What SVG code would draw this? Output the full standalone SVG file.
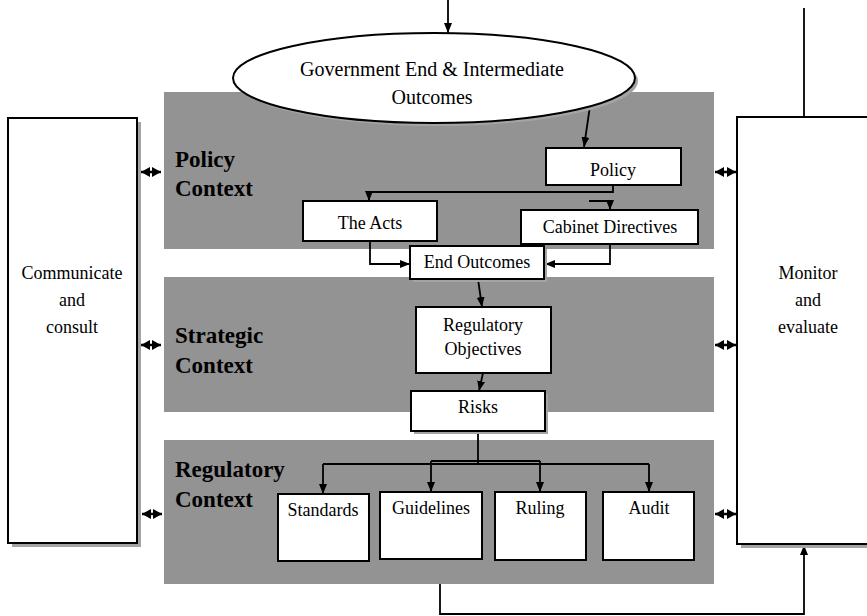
<svg xmlns="http://www.w3.org/2000/svg" width="867" height="616" viewBox="0 0 867 616">
  <style>
    .panel { fill: #939393; }
    .shadow { fill: #a4a4a4; }
    .box { fill: #ffffff; stroke: #000000; stroke-width: 2; }
    .txt { font-family: "Liberation Serif", "Times New Roman", serif; font-size: 18px; fill: #000000; text-anchor: middle; }
    .big { font-size: 20px; }
    .ctx { font-family: "Liberation Serif", "Times New Roman", serif; font-size: 23px; font-weight: bold; fill: #000000; }
    .wire { fill: none; stroke: #000000; stroke-width: 1.8; }
    .dbl { fill: none; stroke: #000000; stroke-width: 2.5; }
  </style>
  <defs>
    <marker id="arrow" markerUnits="userSpaceOnUse" markerWidth="10" markerHeight="10" viewBox="0 0 10 10" refX="10" refY="5" orient="auto">
      <path d="M0,1 L10,5 L0,9 Z" fill="#000000"/>
    </marker>
    <marker id="tip" markerUnits="userSpaceOnUse" markerWidth="9" markerHeight="10" viewBox="0 0 9 10" refX="9" refY="5" orient="auto-start-reverse">
      <path d="M0,0 L9,5 L0,10 Z" fill="#000000"/>
    </marker>
  </defs>

  <!-- context bands -->
  <g id="bands">
    <rect class="panel" x="164" y="92" width="550" height="157"/>
    <rect class="panel" x="164" y="277" width="550" height="135"/>
    <rect class="panel" x="164" y="440" width="550" height="144"/>
    <text class="ctx" x="175" y="167">Policy</text>
    <text class="ctx" x="175" y="196">Context</text>
    <text class="ctx" x="175" y="343">Strategic</text>
    <text class="ctx" x="175" y="373">Context</text>
    <text class="ctx" x="175" y="477">Regulatory</text>
    <text class="ctx" x="175" y="507">Context</text>
  </g>

  <!-- connectors -->
  <g id="connectors">
    <path class="wire" d="M448,0 V33" marker-end="url(#arrow)"/>
    <path class="wire" d="M804,8 V117"/>
    <path class="wire" d="M590,106 L584,147" marker-end="url(#arrow)"/>
    <path class="wire" d="M613,185 V192 H369 V201" marker-end="url(#arrow)"/>
    <path class="wire" d="M589,201 H610 V210" marker-end="url(#arrow)"/>
    <path class="wire" d="M370,241 V264 H410" marker-end="url(#arrow)"/>
    <path class="wire" d="M610,244 V264 H545" marker-end="url(#arrow)"/>
    <path class="wire" d="M478,279 L482,307" marker-end="url(#arrow)"/>
    <path class="wire" d="M483,373 L479,391" marker-end="url(#arrow)"/>
    <path class="wire" d="M478,431 V464"/>
    <path class="wire" d="M323,464 H649"/>
    <path class="wire" d="M431,461 H540"/>
    <path class="wire" d="M323,464 V494" marker-end="url(#arrow)"/>
    <path class="wire" d="M431,461 V492" marker-end="url(#arrow)"/>
    <path class="wire" d="M540,461 V492" marker-end="url(#arrow)"/>
    <path class="wire" d="M649,464 V492" marker-end="url(#arrow)"/>
    <path class="wire" d="M440,584 V614 H804 V545" marker-end="url(#arrow)"/>
    <path class="dbl" d="M141,172 H161" marker-start="url(#tip)" marker-end="url(#tip)"/>
    <path class="dbl" d="M141,345 H161" marker-start="url(#tip)" marker-end="url(#tip)"/>
    <path class="dbl" d="M142,514 H162" marker-start="url(#tip)" marker-end="url(#tip)"/>
    <path class="dbl" d="M715,172 H736" marker-start="url(#tip)" marker-end="url(#tip)"/>
    <path class="dbl" d="M715,345 H736" marker-start="url(#tip)" marker-end="url(#tip)"/>
    <path class="dbl" d="M715,514 H736" marker-start="url(#tip)" marker-end="url(#tip)"/>
  </g>

  <!-- nodes -->
  <g id="government-outcomes">
    <ellipse class="shadow" cx="437" cy="81" rx="201" ry="45"/>
    <ellipse class="box" cx="434" cy="78" rx="201" ry="45"/>
    <text class="txt big" x="432" y="76">Government End &amp; Intermediate</text>
    <text class="txt big" x="432" y="104">Outcomes</text>
  </g>

  <g id="communicate">
    <rect class="shadow" x="12" y="122" width="129" height="425"/>
    <rect class="box" x="8" y="118" width="129" height="425"/>
    <text class="txt" x="72" y="279">Communicate</text>
    <text class="txt" x="72" y="306">and</text>
    <text class="txt" x="72" y="333">consult</text>
  </g>

  <g id="monitor">
    <rect class="shadow" x="741" y="121" width="140" height="427"/>
    <rect class="box" x="737" y="117" width="140" height="427"/>
    <text class="txt" x="808" y="279">Monitor</text>
    <text class="txt" x="808" y="306">and</text>
    <text class="txt" x="808" y="333">evaluate</text>
  </g>

  <g id="policy">
    <rect class="box" x="546" y="148" width="135" height="37"/>
    <text class="txt" x="613" y="176">Policy</text>
  </g>

  <g id="acts">
    <rect class="box" x="303" y="201" width="134" height="40"/>
    <text class="txt" x="370" y="229">The Acts</text>
  </g>

  <g id="cabinet-directives">
    <rect class="box" x="521" y="210" width="177" height="34"/>
    <text class="txt" x="610" y="233">Cabinet Directives</text>
  </g>

  <g id="end-outcomes">
    <rect class="shadow" x="413" y="249" width="134" height="33"/>
    <rect class="box" x="410" y="246" width="134" height="33"/>
    <text class="txt" x="477" y="268">End Outcomes</text>
  </g>

  <g id="regulatory-objectives">
    <rect class="box" x="416" y="307" width="135" height="66"/>
    <text class="txt" x="483" y="331">Regulatory</text>
    <text class="txt" x="483" y="355">Objectives</text>
  </g>

  <g id="risks">
    <rect class="shadow" x="414" y="394" width="134" height="40"/>
    <rect class="box" x="411" y="391" width="134" height="40"/>
    <text class="txt" x="478" y="413">Risks</text>
  </g>

  <g id="standards">
    <rect class="box" x="278" y="494" width="91" height="67"/>
    <text class="txt" x="323" y="516">Standards</text>
  </g>

  <g id="guidelines">
    <rect class="box" x="380" y="492" width="102" height="67"/>
    <text class="txt" x="431" y="514">Guidelines</text>
  </g>

  <g id="ruling">
    <rect class="box" x="495" y="492" width="91" height="68"/>
    <text class="txt" x="540" y="514">Ruling</text>
  </g>

  <g id="audit">
    <rect class="box" x="603" y="492" width="91" height="68"/>
    <text class="txt" x="649" y="514">Audit</text>
  </g>
</svg>
